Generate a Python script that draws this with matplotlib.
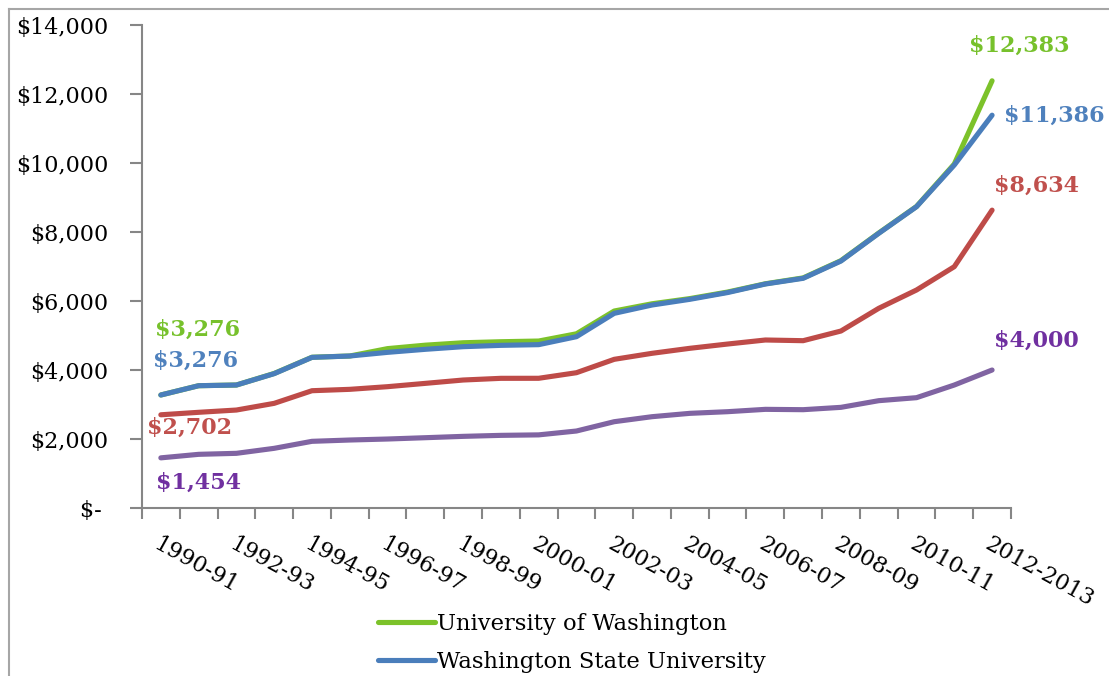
import numpy as np
import matplotlib
matplotlib.use("Agg")
import matplotlib.pyplot as plt
from matplotlib.lines import Line2D

plt.rcParams['font.family'] = ['DejaVu Serif']

# Datos (matrícula anual, USD)
years = ['1990-91', '1991-92', '1992-93', '1993-94', '1994-95', '1995-96',
         '1996-97', '1997-98', '1998-99', '1999-00', '2000-01', '2001-02',
         '2002-03', '2003-04', '2004-05', '2005-06', '2006-07', '2007-08',
         '2008-09', '2009-10', '2010-11', '2011-12', '2012-2013']

uw = [3276, 3545, 3565, 3900, 4370, 4406, 4620, 4720, 4790, 4820, 4840, 5050,
      5710, 5920, 6070, 6260, 6500, 6670, 7170, 7970, 8740, 9971, 12383]
wsu = [3276, 3545, 3565, 3895, 4367, 4406, 4512, 4600, 4676, 4715, 4735, 4966,
       5643, 5884, 6049, 6245, 6493, 6658, 7159, 7962, 8734, 9942, 11386]
red_series = [2702, 2774, 2840, 3034, 3400, 3440, 3517, 3613, 3710, 3759, 3760, 3922,
              4310, 4484, 4629, 4753, 4870, 4850, 5130, 5788, 6319, 6995, 8634]
purple_series = [1454, 1556, 1585, 1730, 1933, 1971, 2000, 2038, 2077, 2106, 2120, 2232,
                 2502, 2647, 2744, 2792, 2860, 2850, 2918, 3111, 3198, 3565, 4000]

yticks = [0, 2000, 4000, 6000, 8000, 10000, 12000, 14000]

x = np.arange(len(years))

fig = plt.figure(figsize=(11.09, 6.76), dpi=100)
ax = fig.add_axes([0.128, 0.2485, 0.7836, 0.7145])

# Lineas
l_uw, = ax.plot(x, uw, color='#7CC22A', lw=3.7, solid_capstyle='round',
                label='University of Washington')
l_wsu, = ax.plot(x, wsu, color='#4A7EBB', lw=3.7, solid_capstyle='round',
                 label='Washington State University')
ax.plot(x, red_series, color='#BE4B48', lw=3.7, solid_capstyle='round')
ax.plot(x, purple_series, color='#8064A2', lw=3.7, solid_capstyle='round')

# Etiquetas de datos (primer y ultimo punto)
lab_kw = dict(textcoords='offset points', ha='center', va='center',
              fontsize=16, fontweight='bold')
ax.annotate(f'${uw[0]:,}', (x[0], uw[0]), xytext=(26.6, 46.8), color='#77C12C', **lab_kw)
ax.annotate(f'${wsu[0]:,}', (x[0], wsu[0]), xytext=(25.2, 24.5), color='#4F81BD', **lab_kw)
ax.annotate(f'${red_series[0]:,}', (x[0], red_series[0]), xytext=(20.9, -9.4), color='#C0504D', **lab_kw)
ax.annotate(f'${purple_series[0]:,}', (x[0], purple_series[0]), xytext=(27.4, -18), color='#7030A0', **lab_kw)
ax.annotate(f'${uw[-1]:,}', (x[-1], uw[-1]), xytext=(19.4, 25.2), color='#77C12C', **lab_kw)
ax.annotate(f'${wsu[-1]:,}', (x[-1], wsu[-1]), xytext=(44.6, -0.7), color='#4F81BD', **lab_kw)
ax.annotate(f'${red_series[-1]:,}', (x[-1], red_series[-1]), xytext=(31.7, 17.3), color='#C0504D', **lab_kw)
ax.annotate(f'${purple_series[-1]:,}', (x[-1], purple_series[-1]), xytext=(31.7, 20.9), color='#7030A0', **lab_kw)

# Ejes
ax.set_xlim(-0.5, len(years) - 0.5)
ax.set_ylim(0, 14000)
for s in ['top', 'right']:
    ax.spines[s].set_visible(False)
for s in ['left', 'bottom']:
    ax.spines[s].set_color('#868686')
    ax.spines[s].set_linewidth(1.5)

ax.set_yticks(yticks)
ax.set_yticklabels([f'${v:,}' if v else '$- ' for v in yticks])
ax.tick_params(axis='y', length=9, width=1.5, color='#868686', pad=15, labelsize=16)

ax.set_xticks(x[::2])
ax.set_xticklabels(years[::2], rotation=-29, ha='left', va='top', rotation_mode='anchor')
ax.set_xticks(np.arange(-0.5, len(years)), minor=True)
ax.tick_params(axis='x', which='major', length=0, pad=18, labelsize=16)
ax.tick_params(axis='x', which='minor', length=8, width=1.5, color='#868686')

# Leyenda (recortada como en la imagen)
fig.legend(handles=[l_uw, l_wsu], loc='upper left', bbox_to_anchor=(0.3409, 1 - 613 / 676),
           frameon=False, fontsize=16.3, handlelength=2.5, handletextpad=0.1,
           labelspacing=0.7, borderpad=0, borderaxespad=0)

# Borde del grafico
fig.add_artist(Line2D([9 / 1109, 9 / 1109], [0, 1 - 9 / 676], transform=fig.transFigure,
                      color='#A6A6A6', lw=1.5))
fig.add_artist(Line2D([9 / 1109, 1], [1 - 9 / 676, 1 - 9 / 676], transform=fig.transFigure,
                      color='#A6A6A6', lw=1.5))

fig.savefig('out.png', dpi=100)
